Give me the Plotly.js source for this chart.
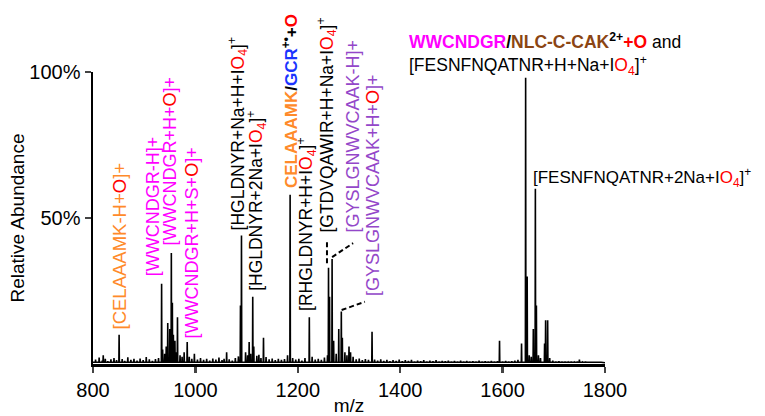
<!DOCTYPE html>
<html>
<head>
<meta charset="utf-8">
<script src="https://cdn.plot.ly/plotly-3.0.1.min.js"></script>
<style>html,body{margin:0;padding:0;background:#fff;}#chart{width:765px;height:416px;}</style>
</head>
<body>
<div id="chart"></div>
<script>
// ---- data ----
const peakMz = [820, 851, 934, 936, 946, 950, 953, 955, 957, 960, 965, 978, 984, 998, 1061, 1088, 1090, 1105, 1112, 1114, 1133, 1180, 1185, 1222.5, 1258, 1260, 1262, 1267, 1270, 1280, 1285, 1287, 1300, 1303, 1345, 1594, 1637, 1645, 1648, 1660, 1664, 1666, 1682, 1684, 1688, 1750];
const peakAb = [3, 10, 27.5, 5, 14, 12, 38, 21, 10, 8, 16, 4, 7.5, 3.5, 4, 20, 44, 7.5, 23, 6, 9, 3, 58, 16, 3, 33, 23, 36, 8, 12, 18, 9, 6, 4, 11, 8, 7, 98, 30, 12, 60, 20, 7, 15, 15, 1.5];
const noiseMz = [805, 812, 818, 824, 829, 835, 841, 846, 857, 862, 868, 874, 880, 886, 892, 898, 904, 910, 916, 922, 928, 940, 943, 962, 970, 974, 988, 993, 1004, 1010, 1016, 1022, 1028, 1034, 1040, 1046, 1052, 1056, 1066, 1072, 1078, 1084, 1098, 1102, 1108, 1120, 1124, 1128, 1138, 1144, 1150, 1156, 1162, 1168, 1174, 1190, 1196, 1202, 1208, 1214, 1228, 1234, 1240, 1246, 1252, 1275, 1292, 1296, 1308, 1314, 1320, 1326, 1332, 1338, 1350, 1356, 1362, 1368, 1374, 1380, 1386, 1392, 1398, 1404, 1410, 1416, 1422, 1428, 1434, 1440, 1446, 1452, 1458, 1464, 1470, 1476, 1482, 1488, 1494, 1500, 1506, 1512, 1518, 1524, 1530, 1536, 1542, 1548, 1554, 1560, 1566, 1572, 1578, 1584, 1590, 1600, 1606, 1612, 1618, 1624, 1630, 1652, 1656, 1670, 1674, 1692, 1698, 1704, 1710, 1716, 1722, 1728, 1734, 1740, 1746, 1756, 1762, 1768, 1774, 1780, 1786, 1792];
const noiseAb = [1.5, 2.2, 1.2, 1.8, 1.0, 1.6, 2.0, 1.3, 1.7, 1.1, 2.3, 1.4, 1.8, 1.2, 1.9, 1.3, 2.4, 1.6, 1.1, 1.7, 2.0, 3.5, 6, 4, 3, 2.5, 2.5, 1.8, 1.5, 2.0, 1.4, 1.8, 1.2, 1.9, 1.5, 2.2, 1.3, 1.8, 1.6, 1.2, 2.0, 2.6, 4, 3, 3.5, 2.8, 3.2, 2.0, 2.4, 1.6, 1.9, 1.3, 1.8, 1.4, 1.7, 2.0, 1.5, 1.8, 1.2, 2.0, 2.5, 1.5, 1.8, 1.4, 2.2, 3.5, 4, 3, 2.5, 1.6, 1.9, 1.3, 1.7, 1.4, 1.5, 1.2, 1.6, 1.1, 1.4, 1.0, 1.3, 1.1, 1.5, 1.0, 1.3, 1.1, 1.4, 0.9, 1.2, 1.0, 1.3, 0.9, 1.2, 1.0, 1.3, 0.9, 1.1, 1.0, 1.2, 0.9, 1.1, 0.8, 1.2, 0.9, 1.1, 0.8, 1.0, 0.9, 1.2, 0.8, 1.0, 0.9, 1.1, 0.8, 1.0, 0.9, 1.1, 0.8, 1.0, 1.2, 1.4, 3, 2.5, 3, 2, 2, 1.2, 0.9, 1.0, 0.8, 0.9, 0.7, 0.8, 0.7, 0.8, 0.7, 0.8, 0.6, 0.7, 0.6, 0.7, 0.6];
const xTicks = [800, 1000, 1200, 1400, 1600, 1800];
const yTickVals = [50, 100];
const yTickText = ['50%', '100%'];
// connector endpoints [x0, y0, x1, y1] in m/z and %
const connectors = [[1257, 34.5, 1257, 42], [1267, 36.6, 1308, 41.4], [1285.6, 18.5, 1331, 21.3]];

// ---- build stick profile ----
const all = peakMz.map((m, i) => [m, peakAb[i]]).concat(noiseMz.map((m, i) => [m, noiseAb[i]]));
all.sort((a, b) => a[0] - b[0]);
const xs = [800], ys = [0.6];
all.forEach(([m, h]) => { xs.push(m - 0.5, m, m + 0.5); ys.push(0.6, h, 0.6); });
xs.push(1800); ys.push(0.4);

const RED = '#FF0000', ORANGE = '#FF8A2A', MAG = '#FF00FF', PURPLE = '#9447C9', BLUE = '#1A34FF', BROWN = '#8B4513';
const FONT = 'Arial, "Liberation Sans", sans-serif';
const r = s => `<span style="color:${RED}">${s}</span>`;
const io4 = `I${r('O<sub>4</sub>')}`;

function vlab(x, y, text, color, size) {
  return {x: x, y: y, xref: 'x', yref: 'y', text: text, showarrow: false, textangle: -90,
    xanchor: 'center', yanchor: 'bottom', font: {family: FONT, size: size, color: color}};
}
const annotations = [
  vlab(852.7, 11.3, `[CELAAAMK-H+${r('O')}]+`, ORANGE, 18.5),
  vlab(917, 29.5, `[WWCNDGR-H]+`, MAG, 18),
  vlab(950, 40, `[WWCNDGR+H+${r('O')}]+`, MAG, 18),
  vlab(993, 8.2, `[WWCNDGR+H+S+${r('O')}]+`, MAG, 18),
  vlab(1083, 45.2, `[HGLDNYR+Na+H+${io4}]<sup>+</sup>`, '#000', 17.5),
  vlab(1118, 24.3, `[HGLDNYR+2Na+${io4}]<sup>+</sup>`, '#000', 17.5),
  vlab(1185, 59.6, `<b><span style="color:${ORANGE}">CELAAAMK</span>/<span style="color:${BLUE}">GCR</span><sup>+•</sup>+${r('O')}</b>`, '#000', 17),
  vlab(1218, 17.5, `[RHGLDNYR+H+${io4}]<sup>+</sup>`, '#000', 17.5),
  vlab(1257, 44.5, `[GTDVQAWIR+H+Na+${io4}]<sup>+</sup>`, '#000', 17.5),
  vlab(1308, 44.2, `[GYSLGNWVCAAK-H]+`, PURPLE, 18),
  vlab(1347, 22.6, `[GYSLGNWVCAAK+H+${r('O')}]+`, PURPLE, 18),
  {x: 0.613, y: 1.06, xref: 'paper', yref: 'paper', showarrow: false, xanchor: 'left', yanchor: 'middle', align: 'left',
    font: {family: FONT, size: 17.5, color: '#000'},
    text: `<b><span style="color:${MAG}">WWCNDGR</span>/<span style="color:${BROWN}">NLC-C-CAK</span><sup>2+</sup>${r('+O')}</b> and<br>[FESNFNQATNR+H+Na+${io4}]<sup>+</sup>`},
  {x: 1655, y: 64, xref: 'x', yref: 'y', showarrow: false, xanchor: 'left', yanchor: 'middle',
    font: {family: FONT, size: 17, color: '#000'},
    text: `[FESNFNQATNR+2Na+${io4}]<sup>+</sup>`}
];
const shapes = connectors.map(c => ({type: 'line', xref: 'x', yref: 'y', x0: c[0], y0: c[1], x1: c[2], y1: c[3],
  line: {color: '#000', width: 2, dash: '5px,3px'}}));

const trace = {x: xs, y: ys, type: 'scatter', mode: 'lines', line: {color: '#000', width: 1.6}, hoverinfo: 'skip', cliponaxis: true};

const layout = {
  width: 765, height: 416,
  margin: {l: 93, r: 160, t: 72, b: 52},
  paper_bgcolor: '#fff', plot_bgcolor: '#fff',
  showlegend: false,
  font: {family: FONT, size: 20, color: '#000'},
  xaxis: {range: [800, 1800], tickvals: xTicks, ticks: 'outside', ticklen: 6, tickwidth: 2.5,
    showline: true, linewidth: 2.5, linecolor: '#000', showgrid: false, zeroline: false,
    tickfont: {size: 20}, title: {text: 'm/z', font: {size: 19}, standoff: 0}},
  yaxis: {range: [0, 100], tickvals: yTickVals, ticktext: yTickText, ticks: 'outside', ticklen: 6, tickwidth: 2.5,
    showline: true, linewidth: 2.5, linecolor: '#000', showgrid: false, zeroline: false,
    tickfont: {size: 20}, title: {text: 'Relative Abundance', font: {size: 19}, standoff: 0}},
  annotations: annotations,
  shapes: shapes
};
Plotly.newPlot('chart', [trace], layout, {displayModeBar: false, staticPlot: true});
</script>
</body>
</html>
